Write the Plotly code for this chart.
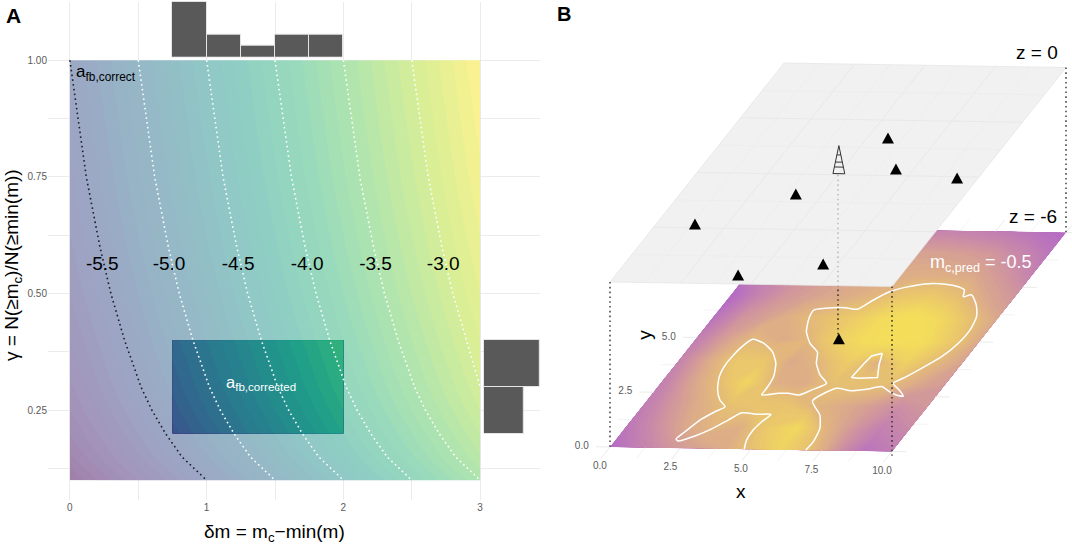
import numpy as np
import plotly.graph_objects as go

W, H = 1072, 546
FONT = "Liberation Sans"
TICK_GREY = "#5a5a5a"
GRID = "#ebebeb"
DOTS = "1.6px,3.2px"

# Panel A values
delta_m = [0, 0.5, 1, 1.5, 2, 2.5, 3]
gamma = [0.1, 0.15, 0.2, 0.25, 0.3, 0.4, 0.5, 0.6, 0.75, 1.0]
a_fb = [
    [-6.5, -6.0, -5.5, -5.0, -4.5, -4.0, -3.5],
    [-6.32, -5.82, -5.32, -4.82, -4.32, -3.82, -3.32],
    [-6.2, -5.7, -5.2, -4.7, -4.2, -3.7, -3.2],
    [-6.1, -5.6, -5.1, -4.6, -4.1, -3.6, -3.1],
    [-6.02, -5.52, -5.02, -4.52, -4.02, -3.52, -3.02],
    [-5.9, -5.4, -4.9, -4.4, -3.9, -3.4, -2.9],
    [-5.8, -5.3, -4.8, -4.3, -3.8, -3.3, -2.8],
    [-5.72, -5.22, -4.72, -4.22, -3.72, -3.22, -2.72],
    [-5.62, -5.12, -4.62, -4.12, -3.62, -3.12, -2.62],
    [-5.5, -5.0, -4.5, -4.0, -3.5, -3.0, -2.5],
]
rect_delta = [0.75, 1, 1.25, 1.5, 1.75, 2]
rect_gamma = [0.2, 0.25, 0.3, 0.35, 0.4]
rect_a_fb = [
    [-5.45, -5.2, -4.95, -4.7, -4.45, -4.2],
    [-5.35, -5.1, -4.85, -4.6, -4.35, -4.1],
    [-5.27, -5.02, -4.77, -4.52, -4.27, -4.02],
    [-5.21, -4.96, -4.71, -4.46, -4.21, -3.96],
    [-5.15, -4.9, -4.65, -4.4, -4.15, -3.9],
]

line_gamma = [1.0, 0.75, 0.6, 0.5, 0.4, 0.3, 0.25, 0.2, 0.15, 0.1]
line_55 = [0, 0.12, 0.22, 0.30, 0.40, 0.52, 0.60, 0.70, 0.82, 1.0]
line_50 = [0.5, 0.62, 0.72, 0.80, 0.90, 1.02, 1.10, 1.20, 1.32, 1.5]
line_45 = [1.0, 1.12, 1.22, 1.30, 1.40, 1.52, 1.60, 1.70, 1.82, 2.0]
line_40 = [1.5, 1.62, 1.72, 1.80, 1.90, 2.02, 2.10, 2.20, 2.32, 2.5]
line_35 = [2.0, 2.12, 2.22, 2.30, 2.40, 2.52, 2.60, 2.70, 2.82, 3.0]
line_30 = [2.5, 2.62, 2.72, 2.80, 2.90, 3.0]

level_labels = ["-5.5", "-5.0", "-4.5", "-4.0", "-3.5", "-3.0"]
level_x = [0.237, 0.725, 1.23, 1.735, 2.235, 2.73]
level_y = [0.56] * 6

hist_top_x = [0.875, 1.125, 1.375, 1.625, 1.875]
hist_top_n = [5, 2, 1, 2, 2]
hist_right_y = [0.25, 0.35]
hist_right_n = [5, 7]

# Panel B values
surf_x = [0, 1, 2, 3, 4, 5, 6, 7, 8, 9, 10]
surf_y = [0, 1, 2, 3, 4, 5, 6, 7, 8, 9, 10]
m_c = [
    [-1.05, -0.88, -0.74, -0.66, -0.60, -0.42, -0.22, -0.42, -0.72, -0.98, -0.90],
    [-0.95, -0.78, -0.62, -0.52, -0.56, -0.32, -0.15, -0.52, -0.72, -0.88, -0.80],
    [-0.90, -0.72, -0.58, -0.42, -0.38, -0.38, -0.52, -0.60, -0.68, -0.78, -0.72],
    [-0.88, -0.66, -0.46, -0.20, -0.55, -0.60, -0.44, -0.42, -0.46, -0.62, -0.70],
    [-0.85, -0.62, -0.36, -0.35, -0.62, -0.50, -0.30, -0.55, -0.25, -0.48, -0.65],
    [-0.90, -0.68, -0.50, -0.60, -0.50, -0.25, -0.10, -0.02, -0.08, -0.32, -0.62],
    [-1.00, -0.75, -0.65, -0.52, -0.42, -0.30, -0.12, -0.02, -0.15, -0.40, -0.62],
    [-1.08, -0.85, -0.72, -0.65, -0.60, -0.52, -0.36, -0.32, -0.42, -0.62, -0.72],
    [-0.95, -0.85, -0.75, -0.68, -0.62, -0.60, -0.58, -0.58, -0.62, -0.72, -0.85],
    [-0.92, -0.85, -0.78, -0.72, -0.68, -0.66, -0.66, -0.68, -0.72, -0.82, -0.95],
    [-0.95, -0.90, -0.85, -0.80, -0.80, -0.85, -0.85, -0.88, -0.92, -1.00, -1.05],
]

contour_x = [4.76, 4.59, 4.54, 4.61, 4.73, 4.28, 3.66, 3.39, 3.06, 2.67, 2.22, 2.09, 2.20, 2.43, 2.70, 2.91,
             2.54, 2.18, 1.87, 1.75, 1.81, 2.00, 2.49, 3.03, 3.48, 3.77, 3.85, 3.86, 4.40, 4.75, 5.18, 5.48,
             5.81, 5.35, 4.90, 4.63, 4.12, 3.67, 3.39, 3.33, 3.67, 4.36, 4.83, 5.10, 5.44, 5.89, 6.50, 7.21,
             7.73, 8.04, 8.19, 8.43, 8.88, 9.21, 9.35, 9.31, 9.10, 8.72, 8.39, 8.15, 8.54, 8.85, 8.58, 8.26,
             7.83, 7.43, 6.89, 6.30, 5.81, 6.46, 6.83, 6.97, 6.94]
contour_y = [0.0, 0.41, 0.87, 1.25, 1.59, 1.58, 1.64, 1.30, 0.89, 0.56, 0.32, 0.41, 0.74, 1.33, 1.67, 1.90,
             2.20, 2.65, 3.25, 3.85, 4.54, 4.96, 4.79, 4.42, 3.89, 3.29, 2.76, 2.46, 2.54, 2.55, 2.48, 2.72,
             3.03, 3.40, 3.92, 4.42, 4.82, 5.34, 5.94, 6.33, 6.41, 6.45, 6.39, 6.77, 7.18, 7.41, 7.58, 7.58,
             7.48, 7.34, 7.03, 7.12, 6.66, 6.14, 5.54, 4.93, 4.31, 3.77, 3.35, 3.07, 2.78, 2.51, 2.55, 2.69,
             2.92, 2.80, 2.71, 2.81, 2.22, 1.59, 0.99, 0.39, 0.0]
hole_x = [6.93, 6.63, 6.58, 6.52, 6.78, 7.43, 7.14, 6.93]
hole_y = [4.42, 4.29, 4.00, 3.31, 3.28, 3.33, 3.89, 4.42]

station_x = [5.73, 6.87, 9.26, 4.06, 1.36, 6.96, 4.29]
station_y = [6.69, 5.30, 4.94, 4.10, 2.68, 0.97, 0.41]
source_x, source_y = [5.0], [5.05]

tower_side_z = [0, 1.02]
tower_side_dx = [0.21, 0]
hatch_z = [0, 0.24, 0.42, 0.68]
hatch_dx = [0.21, 0.16, 0.12, 0.07]

major = [0, 2.5, 5, 7.5, 10]
minor = [1.25, 3.75, 6.25, 8.75]
x_tick_labels = ["0.0", "2.5", "5.0", "7.5", "10.0"]
y_tick_labels = ["0.0", "2.5", "5.0"]


def proj(x, y, z):
    # oblique view of the two map planes, returns page pixels
    x, y, z = np.asarray(x, float), np.asarray(y, float), np.asarray(z, float)
    return 610 + 28.2 * x + 17.4 * y, 282 + 0.45 * x - 21.9 * y - 27.5 * z


def add_b_line(fig, x, y, z, color, width, dash="solid", spline=False):
    px, py = proj(x, y, z)
    ln = dict(color=color, width=width, dash=dash)
    if spline:
        ln.update(shape="spline", smoothing=0.6)
    fig.add_trace(go.Scatter(x=px, y=py, mode="lines", xaxis="x3", yaxis="y3", hoverinfo="skip", line=ln))


def add_triangles(fig, x, y, z):
    # plotly's triangle marker is too flat for these, so fill them as polygons
    px, py = proj(x, y, z)
    tx, ty = [], []
    for a, b in zip(px, py):
        tx += [a - 6, a + 6, a, a - 6, None]
        ty += [b + 5.5, b + 5.5, b - 5.5, b + 5.5, None]
    fig.add_trace(go.Scatter(x=tx, y=ty, mode="lines", fill="toself", fillcolor="black", xaxis="x3", yaxis="y3",
                             hoverinfo="skip", line=dict(width=0, color="black")))


fig = go.Figure()

# Panel A
viridis = "Viridis"
fig.add_shape(type="rect", x0=0, x1=3, y0=0.1, y1=1, xref="x", yref="y", layer="between",
              fillcolor="white", line_width=0)
fig.add_trace(go.Contour(x=delta_m, y=gamma, z=a_fb, colorscale=viridis, zmin=-6.5, zmax=-2.5, opacity=0.5,
                         autocontour=False, contours=dict(start=-6.5, end=-2.5, size=0.1, coloring="fill", showlines=False),
                         line=dict(width=0), showscale=False, hoverinfo="skip"))
fig.add_trace(go.Contour(x=rect_delta, y=rect_gamma, z=rect_a_fb, colorscale=viridis, zmin=-6.5, zmax=-2.5,
                         autocontour=False, contours=dict(start=-6.5, end=-2.5, size=0.1, coloring="fill", showlines=False),
                         line=dict(width=0), showscale=False, hoverinfo="skip"))

for vals, col in [(line_55, "#1c1c2a"), (line_50, "white"), (line_45, "white"),
                  (line_40, "white"), (line_35, "white"), (line_30, "white")]:
    fig.add_trace(go.Scatter(x=vals, y=line_gamma[:len(vals)], mode="lines", hoverinfo="skip",
                             line=dict(color=col, width=1.6, dash=DOTS)))

fig.add_trace(go.Scatter(x=level_x, y=level_y, text=level_labels, mode="text", hoverinfo="skip",
                         textfont=dict(family=FONT, size=19, color="black")))

fig.add_trace(go.Bar(x=hist_top_x, y=hist_top_n, width=0.25, xaxis="x", yaxis="y2", hoverinfo="skip",
                     marker=dict(color="#595959", line=dict(color="#e4e4e4", width=1))))
fig.add_trace(go.Bar(x=hist_right_n, y=hist_right_y, width=0.1, orientation="h", xaxis="x2", yaxis="y", hoverinfo="skip",
                     marker=dict(color="#595959", line=dict(color="#e4e4e4", width=1))))

# Panel B, lower plane: stubs of the grid stick out past the surface
for v in major + minor:
    wd = 1.0 if v in major else 0.6
    add_b_line(fig, [v, v], [-0.5, 0], [-6, -6], GRID, wd)
    add_b_line(fig, [v, v], [10, 10.5], [-6, -6], GRID, wd)
    add_b_line(fig, [-0.5, 0], [v, v], [-6, -6], GRID, wd)
    add_b_line(fig, [10, 10.5], [v, v], [-6, -6], GRID, wd)

grid_px, grid_py = [], []
for j in surf_y:
    row = proj(surf_x, [j] * len(surf_x), [-6] * len(surf_x))
    grid_px.append(row[0].tolist())
    grid_py.append(row[1].tolist())

fig.add_trace(go.Carpet(a=surf_x, b=surf_y, x=grid_px, y=grid_py, carpet="surf", xaxis="x3", yaxis="y3",
                        aaxis=dict(showgrid=False, showticklabels="none", showline=False, startline=False, endline=False, smoothing=0, minorgridcount=0),
                        baxis=dict(showgrid=False, showticklabels="none", showline=False, startline=False, endline=False, smoothing=0, minorgridcount=0)))
fig.add_trace(go.Contourcarpet(a=surf_x, b=surf_y, z=m_c, carpet="surf", xaxis="x3", yaxis="y3", showscale=False,
                               zmin=-1.05, zmax=0,
                               colorscale=[[0, "#b56cc4"], [0.24, "#c98aa8"], [0.43, "#dcab8a"],
                                           [0.62, "#e8c36f"], [0.9, "#f3dc5c"], [1, "#f4de58"]],
                               autocontour=False, contours=dict(start=-1.1, end=0.02, size=0.02, coloring="fill", showlines=False),
                               line=dict(width=0, smoothing=0)))

add_b_line(fig, contour_x, contour_y, [-6] * len(contour_x), "white", 1.5, spline=True)
add_b_line(fig, hole_x, hole_y, [-6] * len(hole_x), "white", 1.5)

# dotted well line below the upper plane edge, marker on the lower plane
add_b_line(fig, [5, 5], [5, 5], [-4, -6], "#222222", 1.3, DOTS)
add_triangles(fig, source_x, source_y, [-6])

# Panel B, upper plane
cx, cy = proj([0, 10, 10, 0, 0], [0, 0, 10, 10, 0], [0] * 5)
fig.add_trace(go.Scatter(x=cx, y=cy, mode="lines", fill="toself", fillcolor="#f1f1f1", xaxis="x3", yaxis="y3",
                         hoverinfo="skip", line=dict(width=0)))
for v in major + minor:
    col = "#e6e6e6" if v in major else "#ececec"
    add_b_line(fig, [v, v], [0, 10], [0, 0], col, 0.8)
    add_b_line(fig, [0, 10], [v, v], [0, 0], col, 0.8)

add_b_line(fig, [5, 5], [5, 5], [0, -4], "#b4b4b4", 1.3, DOTS)
add_b_line(fig, [0, 0], [0, 0], [0, -6], "#222222", 1.3, DOTS)
add_b_line(fig, [10, 10], [0, 0], [0, -6.15], "#222222", 1.3, DOTS)
add_b_line(fig, [10, 10], [10, 10], [0, -6], "#222222", 1.3, DOTS)

add_triangles(fig, station_x, station_y, [0] * len(station_x))

add_b_line(fig, [source_x[0] - tower_side_dx[0], source_x[0] - tower_side_dx[1], source_x[0] + tower_side_dx[0]],
           [source_y[0]] * 3, [tower_side_z[0], tower_side_z[1], tower_side_z[0]], "#333333", 1)
for z_h, dx_h in zip(hatch_z, hatch_dx):
    add_b_line(fig, [source_x[0] - dx_h, source_x[0] + dx_h], [source_y[0]] * 2, [z_h, z_h], "#333333", 1)

# Panel B tick labels and titles
tx, ty = proj([v + 0.2 for v in major], [-0.9] * 5, [-6] * 5)
fig.add_trace(go.Scatter(x=tx, y=ty, text=x_tick_labels, mode="text", xaxis="x3", yaxis="y3", hoverinfo="skip",
                         textfont=dict(family=FONT, size=10, color=TICK_GREY)))
tx, ty = proj([-1.0] * 3, major[:3], [-6] * 3)
fig.add_trace(go.Scatter(x=tx, y=ty, text=y_tick_labels, mode="text", xaxis="x3", yaxis="y3", hoverinfo="skip",
                         textfont=dict(family=FONT, size=10, color=TICK_GREY)))


def note(text, x, y, size, color="black", xref="x3", yref="y3", anchor="center", angle=0, bold=False):
    fig.add_annotation(text=f"<b>{text}</b>" if bold else text, x=x, y=y, xref=xref, yref=yref, showarrow=False,
                       xanchor=anchor, yanchor="middle", textangle=angle,
                       font=dict(family=FONT, size=size, color=color))


note("A", 13 / W, 1 - 15 / H, 21, xref="paper", yref="paper", bold=True)
note("B", 564 / W, 1 - 14 / H, 20, xref="paper", yref="paper", bold=True)
note("a<sub>fb,correct</sub>", 0.03, 0.972, 17, xref="x", yref="y", anchor="left")
note("a<sub>fb,corrected</sub>", 1.40, 0.309, 16.5, color="white", xref="x", yref="y")
note("δm = m<sub>c</sub>−min(m)", 274 / W, 1 - 533 / H, 19, xref="paper", yref="paper")
note("γ = N(≥m<sub>c</sub>)/N(≥min(m))", 13 / W, 1 - 265 / H, 19, xref="paper", yref="paper", angle=-90)

px_x, px_y = proj([5.8], [-1.9], [-6])
note("x", px_x[0], px_y[0], 19)
px_x, px_y = proj([-1.9], [5.08], [-6])
note("y", px_x[0], px_y[0], 19, angle=-90)
note("z = 0", 1037, 52, 19)
note("z = -6", 1033, 216, 19)
note("m<sub>c,pred</sub> = -0.5", 981, 263, 18, color="white")

fig.update_layout(
    width=W, height=H, margin=dict(l=0, r=0, t=0, b=0), showlegend=False,
    paper_bgcolor="white", plot_bgcolor="white", bargap=0,
    xaxis=dict(domain=[48 / W, 502 / W], range=[-0.16, 3.16], tickvals=[0, 1, 2, 3], gridcolor=GRID, gridwidth=1,
               minor=dict(tickvals=[0.5, 1.5, 2.5], showgrid=True, gridcolor=GRID, gridwidth=0.6),
               zeroline=False, ticklen=0, tickfont=dict(family=FONT, size=10, color=TICK_GREY)),
    yaxis=dict(domain=[1 - 500 / H, 1 - 40 / H], range=[0.0577, 1.0434], tickvals=[0.25, 0.5, 0.75, 1.0],
               tickformat=".2f", gridcolor=GRID, gridwidth=1,
               minor=dict(tickvals=[0.125, 0.375, 0.625, 0.875], showgrid=True, gridcolor=GRID, gridwidth=0.6),
               zeroline=False, ticklen=0, tickfont=dict(family=FONT, size=10, color=TICK_GREY)),
    yaxis2=dict(domain=[1 - 57.3 / H, 1 - 1.7 / H], range=[0, 5], anchor="x", visible=False),
    xaxis2=dict(domain=[483.8 / W, 539.6 / W], range=[0, 7], anchor="y", visible=False),
    xaxis3=dict(domain=[540 / W, 1], range=[540, W], anchor="y3", visible=False),
    yaxis3=dict(domain=[0, 1], range=[H, 0], anchor="x3", visible=False),
)

# the page's default body margin would push the figure off by 8px
fig.write_html("out.html", config=dict(displayModeBar=False), post_script="document.body.style.margin='0';")
